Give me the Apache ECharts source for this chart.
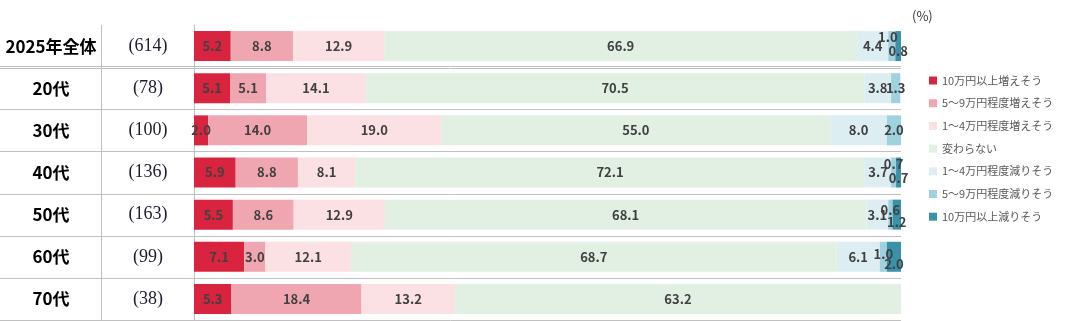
<!DOCTYPE html>
<html>
<head>
<meta charset="utf-8">
<script src="https://cdn.jsdelivr.net/npm/echarts@6/dist/echarts.min.js"></script>
<style>html,body{margin:0;padding:0;background:#fff}#c{width:1087px;height:321px}</style>
</head>
<body>
<div id="c"></div>
<script>
// ---- data ----
const categories = ['2025年全体', '20代', '30代', '40代', '50代', '60代', '70代'];
const sampleSizes = ['(614)', '(78)', '(100)', '(136)', '(163)', '(99)', '(38)'];
const seriesNames = ['10万円以上増えそう', '5～9万円程度増えそう', '1～4万円程度増えそう', '変わらない', '1～4万円程度減りそう', '5～9万円程度減りそう', '10万円以上減りそう'];
const up10      = [5.2, 5.1, 2.0, 5.9, 5.5, 7.1, 5.3];
const up5to9    = [8.8, 5.1, 14.0, 8.8, 8.6, 3.0, 18.4];
const up1to4    = [12.9, 14.1, 19.0, 8.1, 12.9, 12.1, 13.2];
const unchanged = [66.9, 70.5, 55.0, 72.1, 68.1, 68.7, 63.2];
const down1to4  = [4.4, 3.8, 8.0, 3.7, 3.1, 6.1, 0];
const down5to9  = [1.0, 1.3, 2.0, 0.7, 0.6, 1.0, 0];
const down10    = [0.8, 0, 0, 0.7, 1.2, 2.0, 0];
const seriesValues = [up10, up5to9, up1to4, unchanged, down1to4, down5to9, down10];

// ---- styles ----
const colors = ['#D9243F', '#EFA6B0', '#FBE0E4', '#E1F0E2', '#DDEEF3', '#9FD1DE', '#3A92AA'];
// label nudges for crowded small segments: [seriesIndex][rowIndex] -> [dx, dy]
const labelNudges = {
  5: {0: [-4, -9], 3: [0, -8], 4: [0, -5], 5: [0, -3]},
  6: {0: [0, 5], 3: [0, 6], 4: [0, 7], 5: [0, 7]}
};

const chart = echarts.init(document.getElementById('c'), null, {renderer: 'canvas'});

const series = seriesNames.map((name, si) => ({
  name: name,
  type: 'bar',
  stack: 'total',
  barWidth: 30,
  itemStyle: {color: colors[si]},
  label: {
    show: true,
    position: 'inside',
    color: '#404040',
    fontWeight: 'bold',
    fontSize: 13,
    fontFamily: '"Noto Sans CJK JP", "Noto Sans", sans-serif',
    formatter: p => (p.value > 0 ? p.value.toFixed(1) : '')
  },
  emphasis: {disabled: true},
  data: seriesValues[si].map((v, ri) => {
    const n = labelNudges[si] && labelNudges[si][ri];
    return n ? {value: v, label: {offset: n}} : {value: v};
  })
}));

const GRID_TOP = 25, GRID_H = 295;

chart.setOption({
  animation: false,
  grid: {left: 194, right: 186, top: GRID_TOP, height: GRID_H},
  legend: {
    orient: 'vertical',
    left: 929,
    top: 75,
    padding: 0,
    itemWidth: 8,
    itemHeight: 8,
    itemGap: 11.7,
    icon: 'rect',
    textStyle: {fontSize: 11, color: '#595959', fontFamily: '"Noto Sans CJK JP", sans-serif'},
    data: seriesNames
  },
  xAxis: {type: 'value', min: 0, max: 100, show: false},
  yAxis: [
    {
      type: 'category',
      inverse: true,
      data: categories,
      axisLine: {show: true, lineStyle: {color: '#bfbfbf', width: 1}},
      axisTick: {show: false},
      splitLine: {show: false},
      axisLabel: {
        align: 'center',
        margin: 143,
        fontSize: 17,
        fontWeight: 'bold',
        color: '#000',
        fontFamily: '"Noto Sans CJK JP", sans-serif'
      }
    },
    {
      type: 'category',
      inverse: true,
      position: 'left',
      data: sampleSizes,
      axisLine: {show: false},
      axisTick: {show: false},
      splitLine: {show: false},
      axisLabel: {
        align: 'center',
        margin: 46,
        fontSize: 18,
        color: '#1c1c30',
        fontFamily: '"Liberation Serif", "DejaVu Serif", serif'
      }
    }
  ],
  series: series
});

// table rules computed from the category axis scale
const graphics = [];
const lineStyle = {stroke: '#c0c0c0', lineWidth: 1};
const y0 = chart.convertToPixel({yAxisIndex: 0}, 0);
const y1 = chart.convertToPixel({yAxisIndex: 0}, 1);
const band = y1 - y0;
const xEnd = chart.convertToPixel({xAxisIndex: 0}, 100);
const topY = y0 - band / 2;
const botY = y0 + band * (categories.length - 0.5);
graphics.push({type: 'line', shape: {x1: 101.5, y1: topY, x2: 101.5, y2: botY}, style: lineStyle, silent: true});
for (let i = 1; i <= categories.length; i++) {
  const yb = Math.round(y0 + band * (i - 0.5));
  if (i === 1) {
    graphics.push({type: 'line', shape: {x1: 0, y1: yb - 0.5, x2: xEnd, y2: yb - 0.5}, style: lineStyle, silent: true});
    graphics.push({type: 'line', shape: {x1: 0, y1: yb + 1.5, x2: xEnd, y2: yb + 1.5}, style: lineStyle, silent: true});
  } else {
    graphics.push({type: 'line', shape: {x1: 0, y1: yb + 0.5, x2: xEnd, y2: yb + 0.5}, style: lineStyle, silent: true});
  }
}
graphics.push({
  type: 'text', left: 912, top: 10,
  style: {text: '(%)', fontSize: 13, fill: '#333', fontFamily: '"Noto Sans CJK JP", sans-serif'}
});
chart.setOption({graphic: graphics});
</script>
</body>
</html>
